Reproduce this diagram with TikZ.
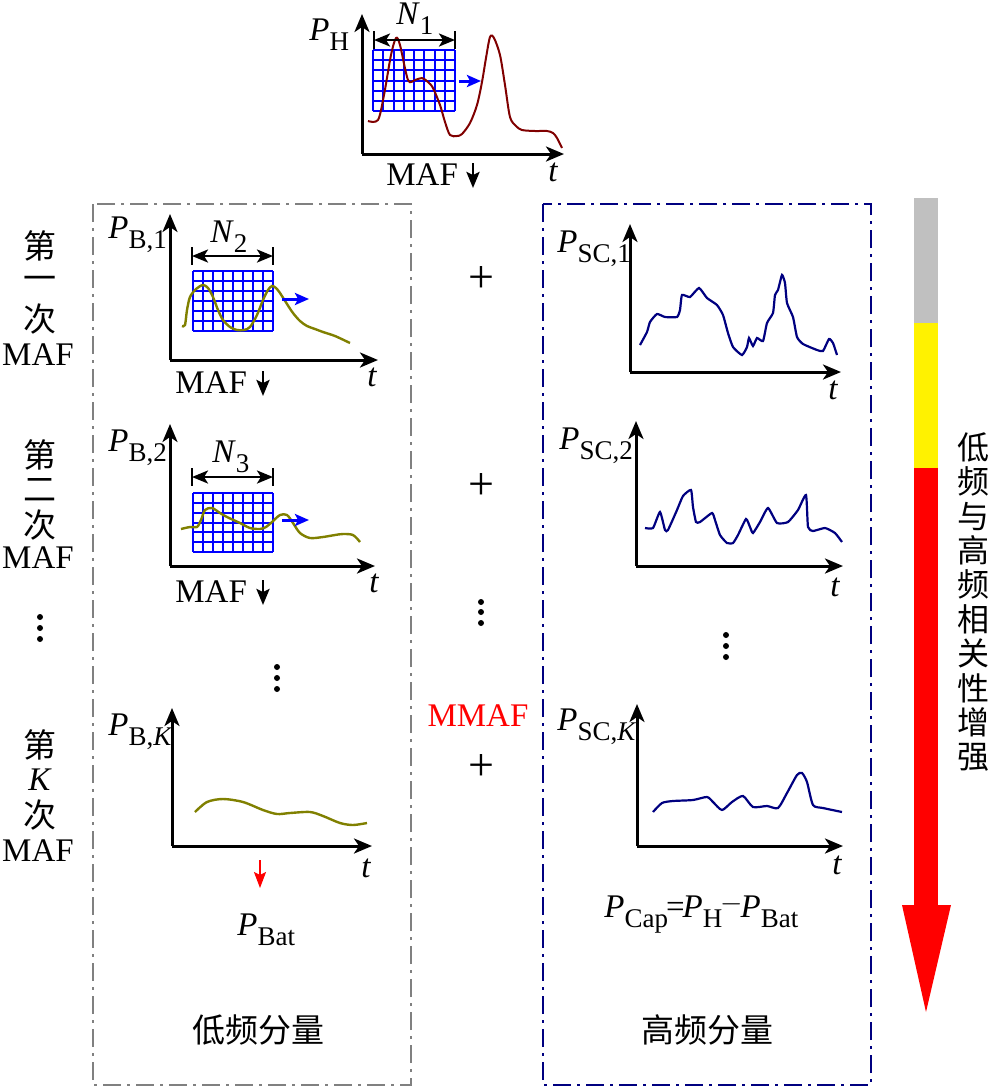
\documentclass[tikz,border=0pt]{standalone}
\usepackage{fontspec}
\setmainfont{Liberation Serif}
\newfontfamily\cjk{Noto Sans CJK SC}
\usetikzlibrary{arrows.meta}
\definecolor{dred}{RGB}{128,0,0}
\definecolor{olivec}{RGB}{128,128,0}
\definecolor{navyc}{RGB}{0,0,128}
\definecolor{grayc}{RGB}{128,128,128}
\definecolor{lgray}{RGB}{192,192,192}
\newcommand{\Pv}[1]{\textit{P}\raisebox{-5pt}{\fontsize{13.5}{13.5}\selectfont #1}}
\newcommand{\Nv}[1]{\textit{N}\raisebox{-5pt}{\fontsize{13.5}{13.5}\selectfont #1}}
\newcommand{\mygrid}[4]{%
  \foreach \i in {0,...,8} \draw[grd] ({#1+\i*#3/8},#2) -- ++(0,#4);
  \foreach \j in {0,...,6} \draw[grd] (#1,{#2+\j*#4/6}) -- ++(#3,0);}
\begin{document}
\begin{tikzpicture}[x=0.5pt,y=-0.5pt,
  ax/.style={line width=1.5pt,-{Stealth[length=9pt,width=7.5pt,inset=2.5pt]}},
  dim/.style={line width=1.3pt,{Stealth[length=8pt,width=6.5pt,inset=2pt]}-{Stealth[length=8pt,width=6.5pt,inset=2pt]}},
  bar/.style={line width=1.3pt},
  grd/.style={blue,line width=1pt},
  mv/.style={blue,line width=1.5pt,-{Stealth[length=7pt,width=6pt,inset=1.5pt]}},
  dn/.style={line width=1.4pt,-{Stealth[length=8pt,width=6.5pt,inset=1.5pt]}},
  lbl/.style={font=\fontsize{16.5}{18}\selectfont,inner sep=0pt},
  pl/.style={font=\fontsize{23}{24}\selectfont,inner sep=0pt},
  cj/.style={font=\cjk\fontsize{16.5}{18}\selectfont,inner sep=0pt},
  crvH/.style={dred,line width=1pt},
  crvB/.style={olivec,line width=1.2pt},
  crvS/.style={navyc,line width=1.1pt},
  boxL/.style={grayc,line width=1pt,dash pattern=on 9pt off 3pt on 1.5pt off 3pt},
  boxR/.style={navyc,line width=1pt,dash pattern=on 9pt off 3pt on 1.5pt off 3pt},
  dotc/.style={fill=black,draw=none}]
\useasboundingbox (0,0) rectangle (990,1089);

% ---------- boxes
\draw[boxL] (93,204) rectangle (411,1085);
\draw[boxR] (543,204) rectangle (871,1085);

% ---------- top chart
\coordinate (oH) at (362,154);
\coordinate (yH) at (362,14);
\coordinate (xH) at (564,154);
\draw[ax] (oH) -- (yH);
\draw[ax] (oH) -- (xH);
\mygrid{373}{50}{82}{61}
\draw[crvH] plot[smooth,tension=0.5] coordinates {(368,121) (378,120) (384,95) (391,55) (396,38) (400,45) (408,80) (415,80) (422,78) (428,82) (433,88) (440,105) (445,122) (450,135) (457,136) (462,134) (470,123) (477,105) (482,82) (486,58) (490,37) (494,38) (500,55) (505,85) (510,117) (516,126) (522,130) (535,131) (547,131) (553,133) (557,138) (562,148)};
\coordinate (dH1) at (374,40); \coordinate (dH2) at (455,40);
\draw[bar] (374,31) -- (374,49); \draw[bar] (455,31) -- (455,49);
\draw[dim] (dH1) -- (dH2);
\coordinate (mH1) at (459,81); \coordinate (mH2) at (481,81);
\draw[mv] (mH1) -- (mH2);
\node[lbl,anchor=base west] (PH) at (309,40) {\Pv{H}};
\node[lbl,anchor=base west] (N1) at (396,24) {\Nv{1}};
\node[lbl,anchor=base west] (tH) at (548,181) {\textit{t}};
\node[lbl,anchor=base west] (mafH) at (386,185) {MAF};
\coordinate (aH1) at (473,163); \coordinate (aH2) at (473,188);
\draw[dn] (aH1) -- (aH2);

% ---------- B1
\coordinate (oB1) at (170,360);
\coordinate (yB1) at (170,214);
\coordinate (xB1) at (378,360);
\draw[ax] (oB1) -- (yB1);
\draw[ax] (oB1) -- (xB1);
\mygrid{193}{271}{80}{60}
\draw[crvB] plot[smooth,tension=0.5] coordinates {(182,326) (185,325) (187,310) (190,297) (196,289) (203,285) (208,288) (213,297) (218,310) (223,320) (230,327) (237,330) (244,330) (250,327) (257,315) (263,300) (268,290) (272,286) (276,288) (280,293) (287,304) (293,313) (300,321) (307,326) (315,329) (323,332) (335,336) (350,343)};
\draw[bar] (192,247) -- (192,265); \draw[bar] (273,247) -- (273,265);
\coordinate (dB11) at (192,256); \coordinate (dB12) at (273,256);
\draw[dim] (dB11) -- (dB12);
\coordinate (mB11) at (282,299); \coordinate (mB12) at (309,299);
\draw[mv] (mB11) -- (mB12);
\node[lbl,anchor=base west] (PB1) at (108,238) {\Pv{B,1}};
\node[lbl,anchor=base west] (N2) at (210,242) {\Nv{2}};
\node[lbl,anchor=base west] (tB1) at (367,386) {\textit{t}};
\node[lbl,anchor=base west] (mafB1) at (175,393) {MAF};
\coordinate (aB11) at (263,371); \coordinate (aB12) at (263,396);
\draw[dn] (aB11) -- (aB12);

% ---------- B2
\coordinate (oB2) at (170,566);
\coordinate (yB2) at (170,424);
\coordinate (xB2) at (375,566);
\draw[ax] (oB2) -- (yB2);
\draw[ax] (oB2) -- (xB2);
\mygrid{193}{493}{80}{59}
\draw[crvB] plot[smooth,tension=0.5] coordinates {(181,529) (190,527) (197,527) (201,520) (205,510) (212,508) (220,513) (227,517) (240,523) (250,528) (260,529) (266,527) (272,522) (280,515) (287,515) (293,523) (300,533) (310,538) (323,537) (335,535) (343,534) (353,535) (360,542)};
\draw[bar] (192,468) -- (192,486); \draw[bar] (273,468) -- (273,486);
\coordinate (dB21) at (192,477); \coordinate (dB22) at (273,477);
\draw[dim] (dB21) -- (dB22);
\coordinate (mB21) at (282,520); \coordinate (mB22) at (309,520);
\draw[mv] (mB21) -- (mB22);
\node[lbl,anchor=base west] (PB2) at (108,451) {\Pv{B,2}};
\node[lbl,anchor=base west] (N3) at (212,462) {\Nv{3}};
\node[lbl,anchor=base west] (tB2) at (369,592) {\textit{t}};
\node[lbl,anchor=base west] (mafB2) at (175,602) {MAF};
\coordinate (aB21) at (263,580); \coordinate (aB22) at (263,605);
\draw[dn] (aB21) -- (aB22);

% dots in left box
\foreach \yy in {667,678,689} \fill[dotc] (277,\yy) circle (3);

% ---------- BK
\coordinate (oBK) at (172,846);
\coordinate (yBK) at (172,708);
\coordinate (xBK) at (372,846);
\draw[ax] (oBK) -- (yBK);
\draw[ax] (oBK) -- (xBK);
\draw[crvB] plot[smooth,tension=0.5] coordinates {(195,812) (207,802) (223,799) (243,802) (263,810) (277,814) (290,813) (310,812) (323,816) (340,823) (353,825) (367,823)};
\node[lbl,anchor=base west] (PBK) at (108,735) {\Pv{B,\textit{K}}};
\node[lbl,anchor=base west] (tBK) at (361,877) {\textit{t}};
\coordinate (rB1) at (260,860); \coordinate (rB2) at (260,888);
\draw[red,line width=1pt,-{Stealth[length=8pt,width=6pt,inset=1.5pt]}] (rB1) -- (rB2);
\node[lbl,anchor=base west] (PBat) at (237,935) {\Pv{Bat}};
\node[cj] (low) at (258,1030) {低频分量};

% ---------- SC1
\coordinate (oS1) at (630,372);
\coordinate (yS1) at (630,224);
\coordinate (xS1) at (841,372);
\draw[ax] (oS1) -- (yS1);
\draw[ax] (oS1) -- (xS1);
\draw[crvS] plot[smooth,tension=0.3] coordinates {(640,345) (647,332) (650,322) (657,314) (665,317) (677,317) (680,310) (682,295) (690,297) (699,288) (707,298) (717,305) (723,315) (728,333) (733,347) (742,355) (747,347) (749,338) (753,346) (757,338) (763,341) (767,323) (773,313) (775,295) (778,290) (782,275) (785,283) (787,303) (793,317) (797,337) (803,344) (817,350) (823,351) (829,339) (833,343) (837,355)};
\node[lbl,anchor=base west] (PS1) at (557,252) {\Pv{SC,1}};
\node[lbl,anchor=base west] (tS1) at (828,399) {\textit{t}};

% ---------- SC2
\coordinate (oS2) at (636,566);
\coordinate (yS2) at (636,421);
\coordinate (xS2) at (843,566);
\draw[ax] (oS2) -- (yS2);
\draw[ax] (oS2) -- (xS2);
\draw[crvS] plot[smooth,tension=0.3] coordinates {(645,528) (653,528) (660,512) (665,530) (668,530) (677,510) (683,496) (691,490) (693,507) (696,522) (700,522) (712,513) (715,520) (720,535) (727,543) (733,543) (738,535) (746,519) (750,527) (753,533) (760,522) (768,508) (777,523) (788,522) (798,510) (806,495) (808,527) (813,531) (825,528) (835,533) (842,542)};
\node[lbl,anchor=base west] (PS2) at (559,449) {\Pv{SC,2}};
\node[lbl,anchor=base west] (tS2) at (830,596) {\textit{t}};

\foreach \yy in {635,646,657} \fill[dotc] (726,\yy) circle (3);

% ---------- SCK
\coordinate (oSK) at (637,846);
\coordinate (ySK) at (637,704);
\coordinate (xSK) at (843,846);
\draw[ax] (oSK) -- (ySK);
\draw[ax] (oSK) -- (xSK);
\draw[crvS] plot[smooth,tension=0.4] coordinates {(653,812) (662,803) (673,801) (693,800) (707,797) (713,802) (722,810) (732,802) (743,796) (753,807) (767,806) (778,808) (787,793) (797,775) (802,773) (807,782) (813,805) (823,808) (842,812)};
\node[lbl,anchor=base west] (PSK) at (557,730) {\Pv{SC,\textit{K}}};
\node[lbl,anchor=base west] (tSK) at (832,874) {\textit{t}};
\node[lbl,anchor=base west] (PCap) at (604,917) {\Pv{Cap}\kern-1pt=\kern-1pt\Pv{H}\kern-1pt\raisebox{3pt}{\fontsize{13.5}{13.5}\selectfont$-$}\kern-1pt\Pv{Bat}};
\node[cj] (high) at (707,1030) {高频分量};

% ---------- middle column
\node[pl] (plus1) at (481,279) {+};
\node[pl] (plus2) at (481,486) {+};
\foreach \yy in {602,612,623} \fill[dotc] (481,\yy) circle (3);
\node[lbl,text=red] (mmaf) at (478,716) {MMAF};
\node[pl] (plus3) at (481,767) {+};

% ---------- left column
\node[cj] (l1a) at (40,246) {第};
\node[cj] (l1b) at (40,283) {一};
\node[cj] (l1c) at (40,319) {次};
\node[lbl] (l1d) at (38,355) {MAF};
\node[cj] (l2a) at (40,455) {第};
\node[cj] (l2b) at (40,490) {二};
\node[cj] (l2c) at (40,525) {次};
\node[lbl] (l2d) at (38,558) {MAF};
\foreach \yy in {617,628,639} \fill[dotc] (40,\yy) circle (3);
\node[cj] (l3a) at (40,745) {第};
\node[lbl] (l3b) at (40,780) {\textit{K}};
\node[cj] (l3c) at (40,815) {次};
\node[lbl] (l3d) at (38,851) {MAF};

% ---------- big arrow
\fill[lgray] (914,198) rectangle (938,323);
\fill[yellow] (914,323) rectangle (938,468);
\fill[red] (914,468) rectangle (938,906);
\fill[red] (902,905) -- (951,905) -- (926,1012) -- cycle;
\node[font=\cjk\fontsize{16}{17.2}\selectfont,align=center,inner sep=0pt] (vt) at (973,602) {低\\频\\与\\高\\频\\相\\关\\性\\增\\强};
\end{tikzpicture}
\end{document}
